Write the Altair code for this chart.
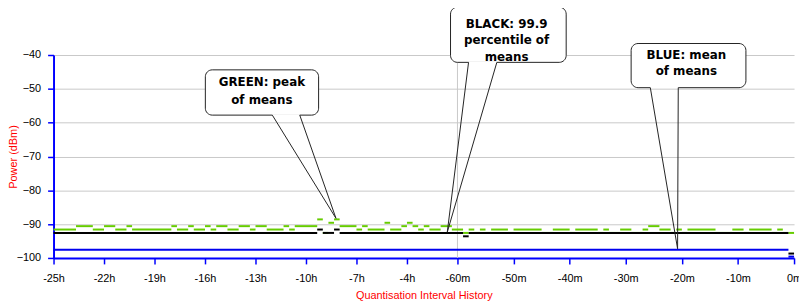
import altair as alt
import pandas as pd

# ---------------- data ----------------
# Time slots: 0..71 are 20-minute slots from -25h to -1h,
#             72..131 are 1-minute slots from -60m to 0m.
# Each run = (first slot, last slot, dBm)
green_from = [0, 4, 7, 9, 11, 13, 14, 21, 22, 24, 25, 27, 28, 29, 31, 33, 35, 36, 38, 41, 42, 43,
              47, 48, 49, 50, 51, 54, 55, 56, 59, 60, 62, 63, 64, 65, 66, 67, 69, 71,
              73, 74, 75, 76, 77, 78, 81, 82, 87, 89, 92, 93, 97, 98, 99, 101, 103, 105, 106,
              108, 110, 111, 112, 113, 118, 121, 123, 124, 128, 129, 130, 131]
green_to = [3, 6, 8, 10, 12, 13, 20, 21, 23, 24, 26, 27, 28, 30, 32, 34, 35, 37, 40, 41, 42, 46,
            47, 48, 49, 50, 53, 54, 55, 58, 59, 61, 62, 63, 64, 65, 66, 68, 70, 72,
            73, 74, 75, 76, 77, 80, 81, 86, 88, 91, 92, 96, 97, 98, 100, 102, 104, 105, 107,
            109, 110, 111, 112, 117, 120, 122, 123, 127, 128, 129, 130, 131]
green_dbm = [-91.6, -90.6, -91.6, -90.6, -91.6, -90.6, -91.6, -90.6, -91.6, -90.6, -91.6, -90.6,
             -91.6, -90.6, -91.6, -90.6, -91.6, -90.6, -91.6, -90.6, -91.6, -90.6,
             -88.6, -92.6, -89.6, -88.6, -90.6, -91.6, -90.6, -91.6, -89.6, -91.6, -90.6, -89.6,
             -90.6, -91.6, -90.6, -91.6, -90.6, -91.6,
             -92.6, -91.6, -92.6, -91.6, -92.6, -91.6, -92.6, -91.6, -92.6, -91.6, -92.6, -91.6,
             -92.6, -91.6, -92.6, -91.6, -92.6, -91.6, -90.6,
             -91.6, -92.6, -91.6, -92.6, -91.6, -92.6, -91.6, -92.6, -91.6, -92.6, -91.6, -92.6, -92.6]

black_from = [0, 47, 48, 50, 51, 73, 74, 131]
black_to = [46, 47, 49, 50, 72, 73, 130, 131]
black_dbm = [-92.6, -91.6, -92.6, -91.6, -92.6, -93.6, -92.6, -98.7]

blue_from = [0, 131]
blue_to = [130, 131]
blue_dbm = [-97.6, -99.6]

x_tick_hours = [-25, -22, -19, -16, -13, -10, -7, -4, -1,
                -50 / 60, -40 / 60, -30 / 60, -20 / 60, -10 / 60, 0]
x_tick_labels = ["-25h", "-22h", "-19h", "-16h", "-13h", "-10h", "-7h", "-4h", "-60m",
                 "-50m", "-40m", "-30m", "-20m", "-10m", "0m"]
y_ticks = [-100, -90, -80, -70, -60, -50, -40]

# callouts (data coordinates: hours, dBm)
callout_lines = ["GREEN: peak", "of means",
                 "BLACK: 99.9", "percentile of", "means",
                 "BLUE: mean", "of means"]
callout_line_x = [-12.62, -12.62, -0.854, -0.854, -0.854, -0.320, -0.320]
callout_line_y = [-48.1, -53.17, -30.84, -35.67, -40.5, -39.97, -44.74]

box_x0 = [-15.98, -1.412, -0.484]
box_x1 = [-9.25, -0.677, -0.143]
box_ytop = [-44.39, -25.86, -36.6]
box_ybot = [-57.77, -42.17, -49.66]

tail_xa = [-12.0, -0.967, -0.427]
tail_xb = [-10.37, -0.883, -0.344]
tail_tip_x = [-8.217, -1.606, -0.346]
tail_tip_y = [-88.29, -92.39, -97.28]


# ---------------- build tables ----------------
def slot_start(k):
    return -25 + k / 3 if k < 72 else -1 + (k - 72) / 60


def slot_end(k):
    return slot_start(k) + (1 / 3 if k < 72 else 1 / 60)


def runs(frm, to, val):
    return pd.DataFrame({"t0": [slot_start(a) for a in frm],
                         "t1": [slot_end(b) for b in to],
                         "v": val})


green_df = runs(green_from, green_to, green_dbm)
black_df = runs(black_from, black_to, black_dbm)
blue_df = runs(blue_from, blue_to, blue_dbm)

label_expr = "''"
for val, lab in reversed(list(zip(x_tick_hours, x_tick_labels))):
    label_expr = f"abs(datum.value - ({val})) < 0.001 ? '{lab}' : {label_expr}"

xs = alt.Scale(domain=[-25, -1, 0], range=[0, 408, 748], nice=False, zero=False)
ys = alt.Scale(domain=[-100, -40], nice=False, zero=False)

FONT = "Liberation Sans"
xaxis = alt.Axis(values=x_tick_hours, labelExpr=label_expr, grid=False,
                 title="Quantisation Interval History",
                 domainColor="#0000ff", domainWidth=2, tickColor="#0000ff", tickWidth=1.5,
                 tickSize=6, labelPadding=9, labelFont=FONT, labelFontSize=11,
                 labelColor="#000000", titleFont=FONT, titleFontSize=11,
                 titleFontWeight="normal", titleColor="#ff0000", titlePadding=6,
                 labelFlush=False, labelOverlap=False)
yaxis = alt.Axis(values=y_ticks, format="d", grid=True, gridColor="#c8c8c8", gridWidth=1,
                 title="Power (dBm)",
                 domainColor="#0000ff", domainWidth=2, tickColor="#0000ff", tickWidth=1.5,
                 tickSize=6, labelPadding=7, labelFont=FONT, labelFontSize=11,
                 labelColor="#000000", titleFont=FONT, titleFontSize=11,
                 titleFontWeight="normal", titleColor="#ff0000",
                 titleX=-40, titleY=102.5, titleBaseline="middle", titleAlign="center",
                 titleAngle=270)


def xenc(f):
    return alt.X(f, type="quantitative", scale=xs, axis=xaxis)


def yenc(f):
    return alt.Y(f, type="quantitative", scale=ys, axis=yaxis)


vgrid_df = pd.DataFrame({"t0": [-1], "v0": [-100], "v1": [-40]})
vgrid = alt.Chart(vgrid_df).mark_rule(color="#c8c8c8", strokeWidth=1).encode(
    x=xenc("t0"), y=yenc("v0"), y2="v1")


def series(df, color):
    return alt.Chart(df).mark_rule(color=color, strokeWidth=2).encode(
        x=xenc("t0"), x2="t1", y=yenc("v"))


green = series(green_df, "#66cc00")
black = series(black_df, "#000000")
blue = series(blue_df, "#0000ee")

box_df = pd.DataFrame({"bx0": box_x0, "bx1": box_x1, "by0": box_ytop, "by1": box_ybot})
boxes = alt.Chart(box_df).mark_rect(fill="white", stroke="#222222", strokeWidth=1,
                                     cornerRadius=7).encode(
    x=xenc("bx0"), x2="bx1", y=yenc("by0"), y2="by1")

cover_df = pd.DataFrame({"xa": tail_xa, "xb": tail_xb, "yb": box_ybot})
cover = alt.Chart(cover_df).mark_rule(color="white", strokeWidth=2).encode(
    x=xenc("xa"), x2="xb", y=yenc("yb"))

tail_rows = []
for xa, xb, yb, tx, ty in zip(tail_xa, tail_xb, box_ybot, tail_tip_x, tail_tip_y):
    tail_rows.append({"ax": xa, "ay": yb, "bx": tx, "by": ty})
    tail_rows.append({"ax": xb, "ay": yb, "bx": tx, "by": ty})
tails = alt.Chart(pd.DataFrame(tail_rows)).mark_rule(color="#222222", strokeWidth=1).encode(
    x=xenc("ax"), y=yenc("ay"), x2="bx", y2="by")

text_df = pd.DataFrame({"tx": callout_line_x, "ty": callout_line_y, "label": callout_lines})
texts = alt.Chart(text_df).mark_text(font="DejaVu Sans", fontWeight="bold", fontSize=12,
                                     color="#000000", align="center",
                                     baseline="middle").encode(
    x=xenc("tx"), y=yenc("ty"), text="label:N")

chart = alt.layer(vgrid, green, black, blue, boxes, cover, tails, texts).properties(
    width=748, height=205, autosize="none",
    padding={"left": 46, "top": 46, "right": 5, "bottom": 42},
    background="white",
).configure_view(strokeWidth=0)

chart.save("out.html", embed_options={"renderer": "svg", "actions": False})
